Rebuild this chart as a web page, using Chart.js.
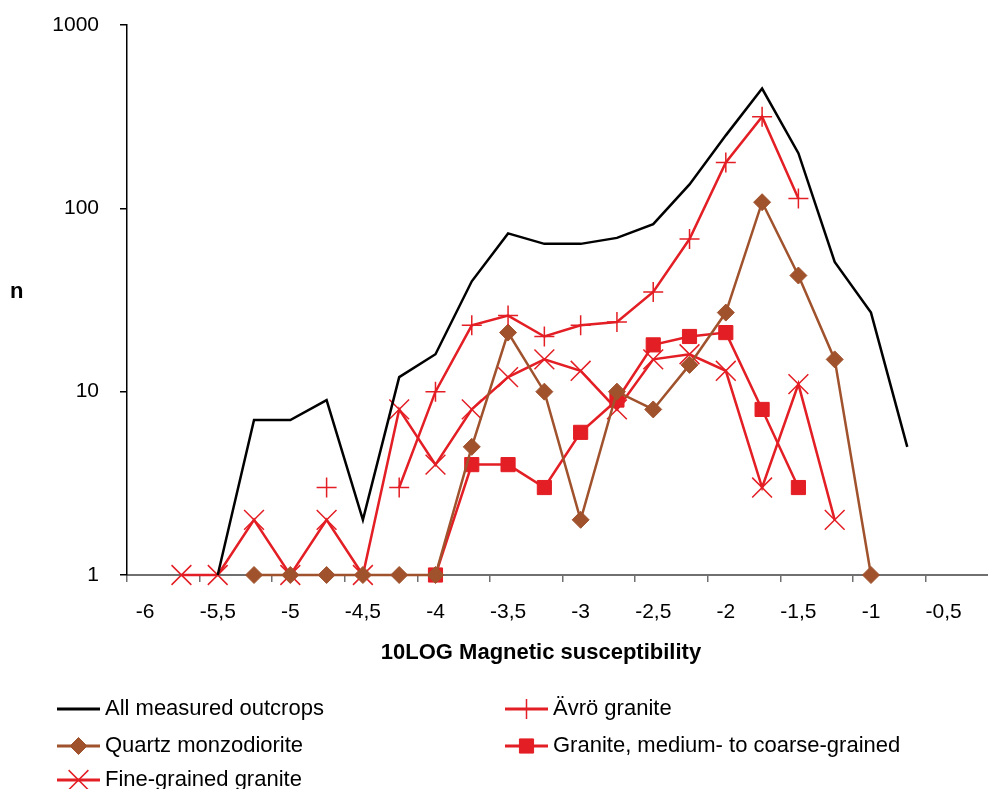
<!DOCTYPE html>
<html>
<head>
<meta charset="utf-8">
<script src="https://cdn.jsdelivr.net/npm/chart.js@4.4.1/dist/chart.umd.min.js"></script>
<style>
  html, body { margin: 0; padding: 0; background: #fff; overflow: hidden; }
  #chart { display: block; }
</style>
</head>
<body>
<canvas id="chart" width="998" height="789"></canvas>
<script>
// bin centres (10LOG magnetic susceptibility), every other one is labelled
const categories = ['-6', '-5,75', '-5,5', '-5,25', '-5', '-4,75', '-4,5', '-4,25', '-4', '-3,75', '-3,5', '-3,25',
  '-3', '-2,75', '-2,5', '-2,25', '-2', '-1,75', '-1,5', '-1,25', '-1', '-0,75', '-0,5', '-0,25'];
const yTicks = [1, 10, 100, 1000];

const allOutcrops = [null, null, 1, 7, 7, 9, 2, 12, 16, 40, 73, 64, 64, 69, 82, 135, 250, 450, 200, 51, 27, 5, null, null];
const avroGranite = [null, null, null, null, null, 3, null, 3, 10, 23, 26, 20, 23, 24, 35, 68, 178, 316, 113, null, null, null, null, null];
const quartzMonzodiorite = [null, null, null, 1, 1, 1, 1, 1, 1, 5, 21, 10, 2, 10, 8, 14, 27, 108, 43, 15, 1, null, null, null];
const graniteMedCoarse = [null, null, null, null, null, null, null, null, 1, 4, 4, 3, 6, 9, 18, 20, 21, 8, 3, null, null, null, null, null];
const fineGrained = [null, 1, 1, 2, 1, 2, 1, 8, 4, 8, 12, 15, 13, 8, 15, 16, 13, 3, 11, 2, null, null, null, null];

const xTitle = '10LOG Magnetic susceptibility';
const yTitle = 'n';

const RED = '#e31e24';
const BROWN = '#a0522d';
const FONT = '"Liberation Sans", Arial, Helvetica, sans-serif';

Chart.defaults.font.family = FONT;
Chart.defaults.color = '#000';

function series(label, data, color, width, style, radius, pointWidth) {
  return {
    label,
    data,
    borderColor: color,
    backgroundColor: color,
    borderWidth: width,
    pointStyle: style,
    pointRadius: radius,
    pointBorderWidth: pointWidth,
    pointBackgroundColor: color,
    pointBorderColor: color,
    tension: 0,
    spanGaps: false,
    clip: false
  };
}

// titles + legend laid out in two columns like the original
const legendBox = {
  id: 'legendBox',
  afterDraw(chart) {
    const ctx = chart.ctx;
    const slots = [[57, 709], [505, 709], [57, 746], [505, 746], [57, 780]];
    ctx.save();
    ctx.fillStyle = '#000';
    ctx.textBaseline = 'middle';

    ctx.font = 'bold 22px ' + FONT;
    ctx.textAlign = 'center';
    ctx.fillText(xTitle, 541, 653);
    ctx.textAlign = 'left';
    ctx.fillText(yTitle, 10, 292);

    ctx.font = '22px ' + FONT;
    chart.data.datasets.forEach((ds, i) => {
      const [x, y] = slots[i];
      ctx.strokeStyle = ds.borderColor;
      ctx.lineWidth = ds.borderWidth + 0.5;
      ctx.beginPath();
      ctx.moveTo(x, y);
      ctx.lineTo(x + 43, y);
      ctx.stroke();
      if (ds.pointRadius > 0) {
        ctx.fillStyle = ds.pointBackgroundColor;
        ctx.strokeStyle = ds.pointBorderColor;
        ctx.lineWidth = ds.pointBorderWidth;
        Chart.helpers.drawPoint(ctx, {
          pointStyle: ds.pointStyle,
          radius: ds.pointRadius,
          borderWidth: ds.pointBorderWidth,
          rotation: 0
        }, x + 21.5, y);
      }
      ctx.fillStyle = '#000';
      ctx.fillText(ds.label, x + 48, y);
    });
    ctx.restore();
  }
};

new Chart(document.getElementById('chart'), {
  type: 'line',
  data: {
    labels: categories,
    datasets: [
      series('All measured outcrops', allOutcrops, '#000', 2.5, 'circle', 0, 0),
      series('Ävrö granite', avroGranite, RED, 2.5, 'cross', 10, 1.5),
      series('Quartz monzodiorite', quartzMonzodiorite, BROWN, 2.5, 'rectRot', 8.5, 1),
      series('Granite, medium- to coarse-grained', graniteMedCoarse, RED, 2.5, 'rect', 10, 1),
      series('Fine-grained granite', fineGrained, RED, 2.5, 'crossRot', 14, 1.5)
    ]
  },
  options: {
    responsive: false,
    animation: false,
    events: [],
    layout: { autoPadding: false, padding: { top: 25, right: 0, bottom: 0, left: 0 } },
    plugins: { legend: { display: false }, tooltip: { enabled: false } },
    scales: {
      x: {
        type: 'category',
        offset: true,
        grid: {
          offset: true,
          drawOnChartArea: false,
          tickLength: 7,
          lineWidth: 1.5,
          tickColor: (c) => (c.index % 2 === 0 ? '#707070' : 'rgba(0,0,0,0)')
        },
        border: { color: '#707070', width: 2 },
        ticks: {
          autoSkip: false,
          maxRotation: 0,
          minRotation: 0,
          padding: 18,
          font: { size: 21 },
          callback(value, index) {
            return index % 2 === 0 ? this.getLabelForValue(value) : '';
          }
        },
        afterFit: (s) => {
          s.height = 789 - 575;
          s.paddingLeft = 0;
          s.paddingRight = 0;
        }
      },
      y: {
        type: 'logarithmic',
        min: 1,
        max: 1000,
        grid: { drawOnChartArea: false, tickLength: 7, color: '#000', lineWidth: 1.5 },
        border: { color: '#000', width: 1.5 },
        ticks: { padding: 21, font: { size: 21 }, callback: (v) => String(v) },
        afterBuildTicks: (axis) => { axis.ticks = yTicks.map((v) => ({ value: v })); },
        afterFit: (s) => {
          s.width = 127;
          s.paddingTop = 0;
          s.paddingBottom = 0;
        }
      }
    }
  },
  plugins: [legendBox]
});
</script>
</body>
</html>
